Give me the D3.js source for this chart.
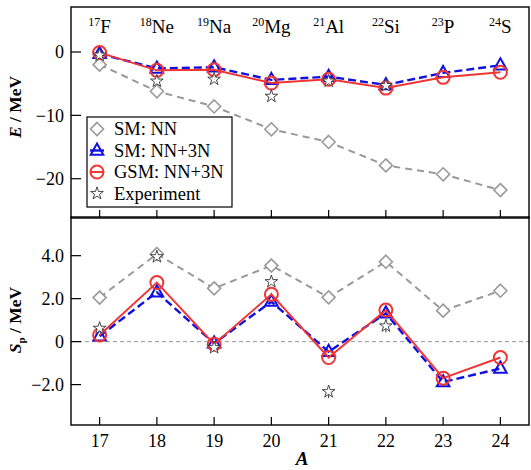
<!DOCTYPE html>
<html>
<head>
<meta charset="utf-8">
<script src="https://cdn.jsdelivr.net/npm/d3@7"></script>
<style>
  body { margin: 0; background: #fff; }
</style>
</head>
<body>
<div id="chart"></div>
<script>
'use strict'
// mass numbers and nuclei
const massNumbers = [17, 18, 19, 20, 21, 22, 23, 24]
const nuclei = [["17", "F"], ["18", "Ne"], ["19", "Na"], ["20", "Mg"], ["21", "Al"], ["22", "Si"], ["23", "P"], ["24", "S"]]

// ground state energies (MeV)
const energySmNN = [-2.0, -6.2, -8.6, -12.2, -14.2, -17.9, -19.3, -21.8]
const energySm3N = [-0.3, -2.6, -2.4, -4.4, -3.9, -5.2, -3.3, -2.1]
const energyGsm3N = [-0.1, -2.9, -2.8, -4.9, -4.3, -5.7, -4.0, -3.2]
const energyExpA = [17, 18, 19, 20, 21, 22]
const energyExp = [-0.5, -4.6, -4.3, -7.0, -4.6, -5.3]

// proton separation energies (MeV)
const spSmNN = [2.05, 4.08, 2.48, 3.54, 2.06, 3.72, 1.44, 2.37]
const spSm3N = [0.25, 2.30, -0.08, 1.86, -0.47, 1.32, -1.88, -1.25]
const spGsm3N = [0.31, 2.75, -0.12, 2.20, -0.74, 1.47, -1.70, -0.74]
const spExpA = [17, 18, 19, 20, 21, 22]
const spExp = [0.62, 3.95, -0.28, 2.79, -2.33, 0.73]
const spExpErr = [0, 0, 0, 0, 0.15, 0.15]

const energyTicks = [-20, -10, 0]
const spTicks = [-2, 0, 2, 4]

const W = 531, H = 470
const svg = d3.select("#chart").append("svg").attr("width", W).attr("height", H)
  .attr("font-family", "'Liberation Serif', 'Times New Roman', serif")

const x = d3.scaleLinear().domain([16.5, 24.5]).range([71, 529])
const yTop = d3.scaleLinear().domain([-26.2, 7.1]).range([218, 7])
const yBot = d3.scaleLinear().domain([-3.88, 5.8]).range([425, 217])

const styles = {
  smNN: {color: "#999999", dash: "7,5", width: 2},
  sm3N: {color: "#1010e0", dash: "8,4", width: 2.4},
  gsm: {color: "#f03535", dash: null, width: 2},
}

function diamond(g, cx, cy, st){
  const r = 6.5
  g.append("path")
    .attr("d", `M${cx},${cy-r}L${cx+r},${cy}L${cx},${cy+r}L${cx-r},${cy}Z`)
    .attr("fill", "white").attr("stroke", st.color).attr("stroke-width", 1.6)
}
function triangle(g, cx, cy, st){
  const r = 7
  g.append("path")
    .attr("d", `M${cx},${cy-r}L${cx+r*0.9},${cy+r*0.6}L${cx-r*0.9},${cy+r*0.6}Z`)
    .attr("fill", "none").attr("stroke", st.color).attr("stroke-width", 2)
}
function circle(g, cx, cy, st){
  g.append("circle").attr("cx", cx).attr("cy", cy).attr("r", 6.5)
    .attr("fill", "none").attr("stroke", st.color).attr("stroke-width", 2)
}
function star(g, cx, cy){
  g.append("path")
    .attr("d", d3.symbol().type(d3.symbolStar).size(50)())
    .attr("transform", `translate(${cx},${cy})`)
    .attr("fill", "white").attr("stroke", "#333").attr("stroke-width", 0.9)
}

function series(g, y, vals, st, marker){
  const line = d3.line().x((d, i) => x(massNumbers[i])).y(d => y(d))
  g.append("path").datum(vals).attr("d", line)
    .attr("fill", "none").attr("stroke", st.color).attr("stroke-width", st.width)
    .attr("stroke-dasharray", st.dash)
  vals.forEach((v, i) => marker(g, x(massNumbers[i]), y(v), st))
}

function frame(y, top, bottom, ticks, fmt){
  const g = svg.append("g")
  // x ticks inward at the bottom
  massNumbers.forEach(a => {
    g.append("line").attr("x1", x(a)).attr("x2", x(a)).attr("y1", bottom).attr("y2", bottom - 8)
      .attr("stroke", "#000").attr("stroke-width", 1.2)
  })
  ticks.forEach(t => {
    g.append("line").attr("x1", 71).attr("x2", 81).attr("y1", y(t)).attr("y2", y(t))
      .attr("stroke", "#000").attr("stroke-width", 1.2)
    g.append("text").attr("x", 64).attr("y", y(t)).attr("dy", "0.35em")
      .attr("text-anchor", "end").attr("font-size", 18).text(fmt(t))
  })
  g.append("rect").attr("x", 71).attr("y", top).attr("width", 458).attr("height", bottom - top)
    .attr("fill", "none").attr("stroke", "#000").attr("stroke-width", 1.4)
  return g
}

const minus = s => s.replace("-", "\u2212")

// ---------- top panel ----------
const gTop = svg.append("g")
series(gTop, yTop, energySmNN, styles.smNN, diamond)
series(gTop, yTop, energySm3N, styles.sm3N, triangle)
series(gTop, yTop, energyGsm3N, styles.gsm, circle)
energyExpA.forEach((a, i) => star(gTop, x(a), yTop(energyExp[i])))
frame(yTop, 7, 218, energyTicks, t => minus(String(t)))

nuclei.forEach((n, i) => {
  const t = svg.append("text").attr("x", x(massNumbers[i])).attr("y", 33)
    .attr("text-anchor", "middle").attr("font-size", 19)
  t.append("tspan").attr("font-size", 12).attr("dy", -7).text(n[0])
  t.append("tspan").attr("dy", 7).text(n[1])
})

// legend
const leg = svg.append("g")
leg.append("rect").attr("x", 87).attr("y", 117).attr("width", 145).attr("height", 90)
  .attr("fill", "white").attr("stroke", "#000").attr("stroke-width", 1.2)
const legItems = [
  {label: "SM: NN", st: styles.smNN, marker: diamond, line: false},
  {label: "SM: NN+3N", st: styles.sm3N, marker: triangle, line: true},
  {label: "GSM: NN+3N", st: styles.gsm, marker: circle, line: true},
  {label: "Experiment", st: null, marker: null, line: false},
]
legItems.forEach((d, i) => {
  const cy = 129 + i * 21.5
  if (d.line) {
    leg.append("line").attr("x1", 90).attr("x2", 104).attr("y1", cy).attr("y2", cy)
      .attr("stroke", d.st.color).attr("stroke-width", d.st.width)
  }
  if (d.marker) d.marker(leg, 97, cy, d.st)
  else star(leg, 97, cy)
  leg.append("text").attr("x", 114).attr("y", cy).attr("dy", "0.35em")
    .attr("font-size", 18.5).text(d.label)
})

// ---------- bottom panel ----------
const gBot = svg.append("g")
gBot.append("line").attr("x1", 71).attr("x2", 529).attr("y1", yBot(0)).attr("y2", yBot(0))
  .attr("stroke", "#999").attr("stroke-width", 1).attr("stroke-dasharray", "4,3")
series(gBot, yBot, spSmNN, styles.smNN, diamond)
series(gBot, yBot, spSm3N, styles.sm3N, triangle)
series(gBot, yBot, spGsm3N, styles.gsm, circle)
spExpA.forEach((a, i) => {
  if (spExpErr[i] > 0) {
    gBot.append("line").attr("x1", x(a)).attr("x2", x(a))
      .attr("y1", yBot(spExp[i] - spExpErr[i] - 0.15)).attr("y2", yBot(spExp[i] + spExpErr[i]))
      .attr("stroke", "#333").attr("stroke-width", 1)
  }
  star(gBot, x(a), yBot(spExp[i]))
})
frame(yBot, 217, 425, spTicks, t => t === 0 ? "0" : minus(d3.format(".1f")(t)))

massNumbers.forEach(a => {
  svg.append("text").attr("x", x(a)).attr("y", 447).attr("text-anchor", "middle")
    .attr("font-size", 18).text(a)
})

// axis titles
svg.append("text").attr("x", 302).attr("y", 465).attr("text-anchor", "middle")
  .attr("font-size", 19).attr("font-weight", "bold").attr("font-style", "italic").text("A")

const eLab = svg.append("text").attr("transform", "translate(21,107) rotate(-90)")
  .attr("text-anchor", "middle").attr("font-size", 17.5).attr("font-weight", "bold")
eLab.append("tspan").attr("font-style", "italic").text("E")
eLab.append("tspan").text(" / MeV")

const sLab = svg.append("text").attr("transform", "translate(21,320) rotate(-90)")
  .attr("text-anchor", "middle").attr("font-size", 17.5).attr("font-weight", "bold")
sLab.append("tspan").attr("font-style", "italic").text("S")
sLab.append("tspan").attr("font-size", 11).attr("dy", 4).text("p")
sLab.append("tspan").attr("dy", -4).text(" / MeV")
</script>
</body>
</html>
